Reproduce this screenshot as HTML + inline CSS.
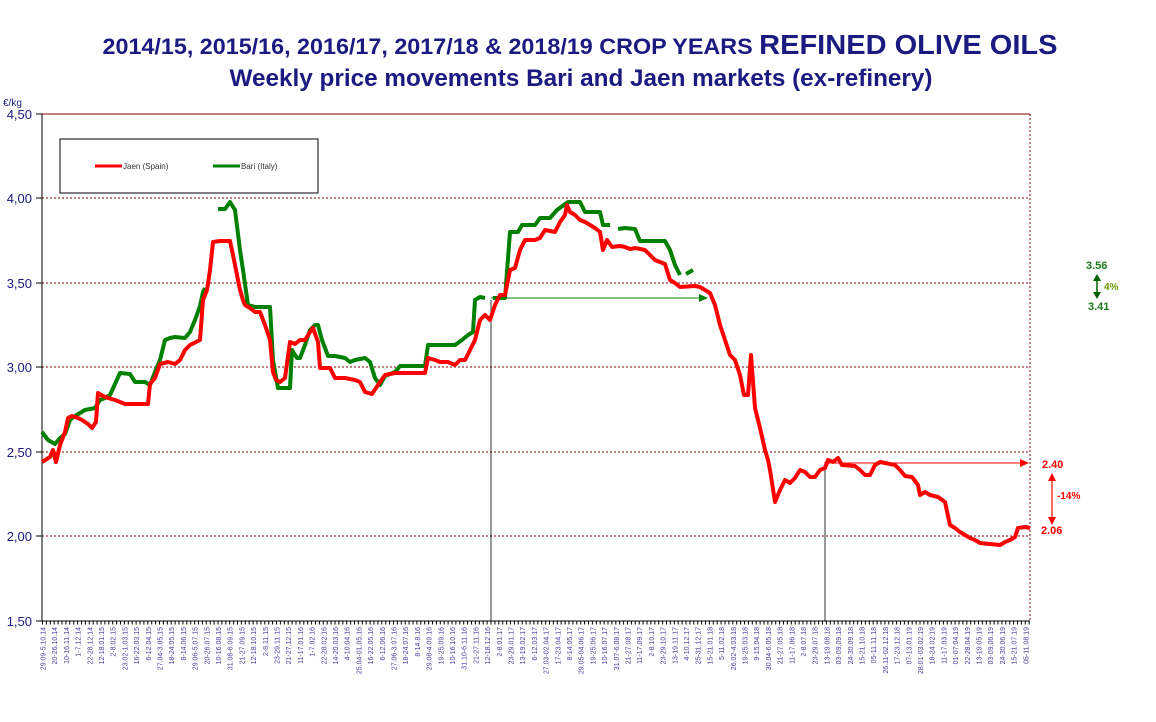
<!DOCTYPE html>
<html><head><meta charset="utf-8"><style>
body{margin:0;background:#fff;}
svg{display:block;font-family:"Liberation Sans",sans-serif;}
</style></head><body>
<svg width="1156" height="722" viewBox="0 0 1156 722" xmlns="http://www.w3.org/2000/svg">
<rect width="1156" height="722" fill="#fff"/>
<text x="580" y="54" text-anchor="middle" font-weight="bold" fill="#1a1a80" font-size="22.5" textLength="955" lengthAdjust="spacingAndGlyphs">2014/15,  2015/16, 2016/17, 2017/18 &amp; 2018/19 CROP YEARS <tspan font-size="28">REFINED OLIVE OILS</tspan></text>
<text x="581" y="86" text-anchor="middle" font-weight="bold" fill="#1a1a80" font-size="24" textLength="703" lengthAdjust="spacingAndGlyphs">Weekly  price movements Bari  and Jaen markets (ex-refinery)</text>
<text x="3" y="106" font-size="10" fill="#1a1a80">€/kg</text>
<g stroke="#800000" stroke-width="1" stroke-dasharray="2,2" fill="none">
<line x1="42" y1="114" x2="1030" y2="114" stroke-dasharray="none"/>
<line x1="42" y1="198" x2="1030" y2="198"/>
<line x1="42" y1="283" x2="1030" y2="283"/>
<line x1="42" y1="367" x2="1030" y2="367"/>
<line x1="42" y1="452" x2="1030" y2="452"/>
<line x1="42" y1="536" x2="1030" y2="536"/>
<line x1="1030" y1="114" x2="1030" y2="621"/>
</g>
<line x1="42" y1="114" x2="42" y2="621" stroke="#000"/>
<line x1="42" y1="621" x2="1030" y2="621" stroke="#000"/>
<g font-size="13" fill="#1a1a80" text-anchor="end">
<text x="32" y="119">4,50</text><text x="32" y="203">4,00</text><text x="32" y="288">3,50</text>
<text x="32" y="372">3,00</text><text x="32" y="457">2,50</text><text x="32" y="541">2,00</text><text x="32" y="626">1,50</text>
</g>
<g stroke="#000"><line x1="36" y1="114" x2="42" y2="114"/><line x1="36" y1="198" x2="42" y2="198"/><line x1="36" y1="283" x2="42" y2="283"/><line x1="36" y1="367" x2="42" y2="367"/><line x1="36" y1="452" x2="42" y2="452"/><line x1="36" y1="536" x2="42" y2="536"/><line x1="36" y1="621" x2="42" y2="621"/></g>
<rect x="60" y="139" width="258" height="54" fill="#fff" stroke="#000"/>
<line x1="95" y1="166" x2="122" y2="166" stroke="#f00" stroke-width="3"/>
<text x="123" y="169" font-size="8" fill="#333">Jaen (Spain)</text>
<line x1="213" y1="166" x2="240" y2="166" stroke="#008000" stroke-width="3"/>
<text x="241" y="169" font-size="8" fill="#333">Bari (Italy)</text>
<line x1="491" y1="300" x2="491" y2="621" stroke="#000" stroke-width="0.8"/>
<line x1="825" y1="462" x2="825" y2="621" stroke="#000" stroke-width="0.8"/>
<line x1="491" y1="298" x2="700" y2="298" stroke="#008000" stroke-width="1"/>
<polygon points="708,298 699,294 699,302" fill="#008000"/>
<line x1="825" y1="463" x2="1020" y2="463" stroke="#f00" stroke-width="1"/>
<polygon points="1029,463 1020,459 1020,467" fill="#f00"/>
<polyline fill="none" stroke="#008000" stroke-width="4" stroke-linejoin="round" points="42,432 48,440 55,444 60,438 65,434 70,420 75,416 85,410 95,408 100,400 105,398 110,395 115,384 120,373 130,374 135,382 145,382 150,385 155,372 160,360 165,340 170,338 175,337 185,338 190,332 195,320 200,306 203,292 205,288"/>
<polyline fill="none" stroke="#008000" stroke-width="4" stroke-linejoin="round" points="218,209 225,209 230,202 235,210 240,250 243,270 248,305 255,307 270,307 273,360 278,388 290,388 292,350 297,358 300,358 305,345 310,330 315,325 318,325 322,340 328,356 335,356 345,358 350,362 355,360 365,358 370,362 375,378 380,385 385,376 395,372 400,366 410,366 420,366 425,366 428,345 440,345 455,345 462,340 468,335 473,332 475,300 480,297 485,298"/>
<polyline fill="none" stroke="#008000" stroke-width="4" stroke-linejoin="round" points="493,298 505,298 510,232 518,232 522,225 535,225 540,218 550,218 557,210 568,202 575,202 580,202 585,212 600,212 603,225 610,225"/>
<polyline fill="none" stroke="#008000" stroke-width="4" stroke-linejoin="round" points="618,229 625,228 635,229 640,241 665,241 670,250 675,265 680,275"/>
<polyline fill="none" stroke="#008000" stroke-width="4" points="686,274 693,270"/>
<polyline fill="none" stroke="#f00" stroke-width="4" stroke-linejoin="round" points="42,462 50,457 53,450 56,462 60,445 65,432 68,418 72,416 78,418 82,420 88,424 92,428 96,422 98,393 103,396 108,398 115,400 120,402 125,404 137,404 148,404 150,384 155,378 160,364 168,362 175,364 180,360 185,350 190,345 196,342 200,340 203,300 207,290 210,270 213,242 220,241 230,241 233,255 237,275 240,290 243,300 245,305 250,308 255,312 260,312 265,325 270,340 273,372 276,380 280,382 285,378 290,342 295,344 300,340 305,340 310,332 313,328 318,342 320,368 330,368 335,378 345,378 355,380 360,382 365,392 372,394 376,388 380,382 385,375 395,373 425,373 428,358 435,360 440,362 448,362 455,365 460,360 465,360 470,350 475,340 480,320 485,315 490,320 495,305 500,295 505,295 510,270 515,268 520,250 525,240 535,240 540,238 545,230 555,232 560,222 565,215 567,205 570,212 575,215 580,220 585,222 590,225 595,228 600,232 603,250 607,240 612,247 620,246 625,247 630,249 635,248 645,250 650,255 655,260 660,262 665,264 670,280 675,283 680,287 695,286 700,287 705,290 710,293 715,305 720,325 725,340 730,355 735,360 740,375 744,395 748,395 751,355 755,408 760,428 765,450 768,460 770,470 775,502 780,490 785,480 790,483 795,478 800,470 805,472 810,477 815,477 820,470 825,468 828,460 833,462 838,458 842,465 855,466 860,470 865,475 870,475 875,465 880,462 885,463 895,465 900,470 905,476 912,477 918,485 920,495 925,492 930,495 938,497 945,502 950,525 955,528 960,532 965,535 970,538 975,540 980,543 1000,545 1005,542 1010,540 1015,537 1018,528 1025,527 1030,528"/>
<g font-size="11" font-weight="bold">
<text x="1086" y="269" fill="#1a7a1a">3.56</text>
<text x="1088" y="310" fill="#1a7a1a">3.41</text>
<text x="1104" y="290" fill="#6a9a00" font-size="10">4%</text>
<text x="1042" y="468" fill="#f00">2.40</text>
<text x="1057" y="499" fill="#f00" font-size="10">-14%</text>
<text x="1041" y="534" fill="#f00">2.06</text>
</g>
<line x1="1097" y1="279" x2="1097" y2="294" stroke="#006000" stroke-width="1.5"/>
<polygon points="1097,274 1093,281 1101,281" fill="#006000"/><polygon points="1097,299 1093,292 1101,292" fill="#006000"/>
<line x1="1052" y1="478" x2="1052" y2="520" stroke="#f00" stroke-width="1.2"/>
<polygon points="1052,473 1048,481 1056,481" fill="#f00"/><polygon points="1052,525 1048,517 1056,517" fill="#f00"/>
<g font-size="7" fill="#4a3fa0" text-anchor="end">
<text transform="translate(45.5,627) rotate(-90)">29.09-5.10.14</text>
<text transform="translate(57.2,627) rotate(-90)">20-26.10.14</text>
<text transform="translate(68.9,627) rotate(-90)">10-16.11.14</text>
<text transform="translate(80.6,627) rotate(-90)">1-7.12.14</text>
<text transform="translate(92.3,627) rotate(-90)">22-28.12.14</text>
<text transform="translate(104,627) rotate(-90)">12-18.01.15</text>
<text transform="translate(115.7,627) rotate(-90)">2-8.02.15</text>
<text transform="translate(127.4,627) rotate(-90)">23.02-1.03.15</text>
<text transform="translate(139.1,627) rotate(-90)">16-22.03.15</text>
<text transform="translate(150.8,627) rotate(-90)">6-12.04.15</text>
<text transform="translate(162.5,627) rotate(-90)">27.04-3.05.15</text>
<text transform="translate(174.2,627) rotate(-90)">18-24.05.15</text>
<text transform="translate(185.9,627) rotate(-90)">8-14.06.15</text>
<text transform="translate(197.6,627) rotate(-90)">29.06-5.07.15</text>
<text transform="translate(209.3,627) rotate(-90)">20-26.07.15</text>
<text transform="translate(221,627) rotate(-90)">10-16.08.15</text>
<text transform="translate(232.7,627) rotate(-90)">31.08-6.09.15</text>
<text transform="translate(244.4,627) rotate(-90)">21-27.09.15</text>
<text transform="translate(256.1,627) rotate(-90)">12-18.10.15</text>
<text transform="translate(267.8,627) rotate(-90)">2-8.11.15</text>
<text transform="translate(279.5,627) rotate(-90)">23-29.11.15</text>
<text transform="translate(291.2,627) rotate(-90)">21-27.12.15</text>
<text transform="translate(302.9,627) rotate(-90)">11-17.01.16</text>
<text transform="translate(314.6,627) rotate(-90)">1-7.02.16</text>
<text transform="translate(326.3,627) rotate(-90)">22-28.02.16</text>
<text transform="translate(338,627) rotate(-90)">14-20.03.16</text>
<text transform="translate(349.7,627) rotate(-90)">4-10.04.16</text>
<text transform="translate(361.4,627) rotate(-90)">25.04-01.05.16</text>
<text transform="translate(373.1,627) rotate(-90)">16-22.05.16</text>
<text transform="translate(384.8,627) rotate(-90)">6-12.06.16</text>
<text transform="translate(396.5,627) rotate(-90)">27.06-3.07.16</text>
<text transform="translate(408.2,627) rotate(-90)">18-24.07.16</text>
<text transform="translate(419.9,627) rotate(-90)">8-14.8.16</text>
<text transform="translate(431.6,627) rotate(-90)">29.08-4.09.16</text>
<text transform="translate(443.3,627) rotate(-90)">19-25.09.16</text>
<text transform="translate(455,627) rotate(-90)">10-16.10.16</text>
<text transform="translate(466.7,627) rotate(-90)">31.10-6.11.16</text>
<text transform="translate(478.4,627) rotate(-90)">21-27.11.16</text>
<text transform="translate(490.1,627) rotate(-90)">12-18.12.16</text>
<text transform="translate(501.8,627) rotate(-90)">2-8.01.17</text>
<text transform="translate(513.5,627) rotate(-90)">23-29.01.17</text>
<text transform="translate(525.2,627) rotate(-90)">13-19.02.17</text>
<text transform="translate(536.9,627) rotate(-90)">6-12.03.17</text>
<text transform="translate(548.6,627) rotate(-90)">27.03-02.04.17</text>
<text transform="translate(560.3,627) rotate(-90)">17-23.04.17</text>
<text transform="translate(572,627) rotate(-90)">8-14.05.17</text>
<text transform="translate(583.7,627) rotate(-90)">29.05-04.06.17</text>
<text transform="translate(595.4,627) rotate(-90)">19-25.06.17</text>
<text transform="translate(607.1,627) rotate(-90)">10-16.07.17</text>
<text transform="translate(618.8,627) rotate(-90)">31.07-6.08.17</text>
<text transform="translate(630.5,627) rotate(-90)">21-27.08.17</text>
<text transform="translate(642.2,627) rotate(-90)">11-17.09.17</text>
<text transform="translate(653.9,627) rotate(-90)">2-8.10.17</text>
<text transform="translate(665.6,627) rotate(-90)">23-29.10.17</text>
<text transform="translate(677.3,627) rotate(-90)">13-19.11.17</text>
<text transform="translate(689,627) rotate(-90)">4-10.12.17</text>
<text transform="translate(700.7,627) rotate(-90)">25-31.12.17</text>
<text transform="translate(712.4,627) rotate(-90)">15-21.01.18</text>
<text transform="translate(724.1,627) rotate(-90)">5-11.02.18</text>
<text transform="translate(735.8,627) rotate(-90)">26.02-4.03.18</text>
<text transform="translate(747.5,627) rotate(-90)">19-25.03.18</text>
<text transform="translate(759.2,627) rotate(-90)">9-15.04.18</text>
<text transform="translate(770.9,627) rotate(-90)">30.04-6.05.18</text>
<text transform="translate(782.6,627) rotate(-90)">21-27.05.18</text>
<text transform="translate(794.3,627) rotate(-90)">11-17.06.18</text>
<text transform="translate(806,627) rotate(-90)">2-8.07.18</text>
<text transform="translate(817.7,627) rotate(-90)">23-29.07.18</text>
<text transform="translate(829.4,627) rotate(-90)">13-19.08.18</text>
<text transform="translate(841.1,627) rotate(-90)">03-09.09.18</text>
<text transform="translate(852.8,627) rotate(-90)">24-30.09.18</text>
<text transform="translate(864.5,627) rotate(-90)">15-21.10.18</text>
<text transform="translate(876.2,627) rotate(-90)">05-11.11.18</text>
<text transform="translate(887.9,627) rotate(-90)">26.11-02.12.18</text>
<text transform="translate(899.6,627) rotate(-90)">17-23.12.18</text>
<text transform="translate(911.3,627) rotate(-90)">07-13.01.19</text>
<text transform="translate(923,627) rotate(-90)">28.01-03.02.19</text>
<text transform="translate(934.7,627) rotate(-90)">18-24.02.19</text>
<text transform="translate(946.4,627) rotate(-90)">11-17.03.19</text>
<text transform="translate(958.1,627) rotate(-90)">01-07.04.19</text>
<text transform="translate(969.8,627) rotate(-90)">22-28.04.19</text>
<text transform="translate(981.5,627) rotate(-90)">13-19.05.19</text>
<text transform="translate(993.2,627) rotate(-90)">03-09.06.19</text>
<text transform="translate(1004.9,627) rotate(-90)">24-30.06.19</text>
<text transform="translate(1016.6,627) rotate(-90)">15-21.07.19</text>
<text transform="translate(1028.3,627) rotate(-90)">05-11.08.19</text>
</g>
<line x1="42" y1="623" x2="1030" y2="623" stroke="#000" stroke-width="3" stroke-dasharray="1,2.9"/>
</svg>
</body></html>
